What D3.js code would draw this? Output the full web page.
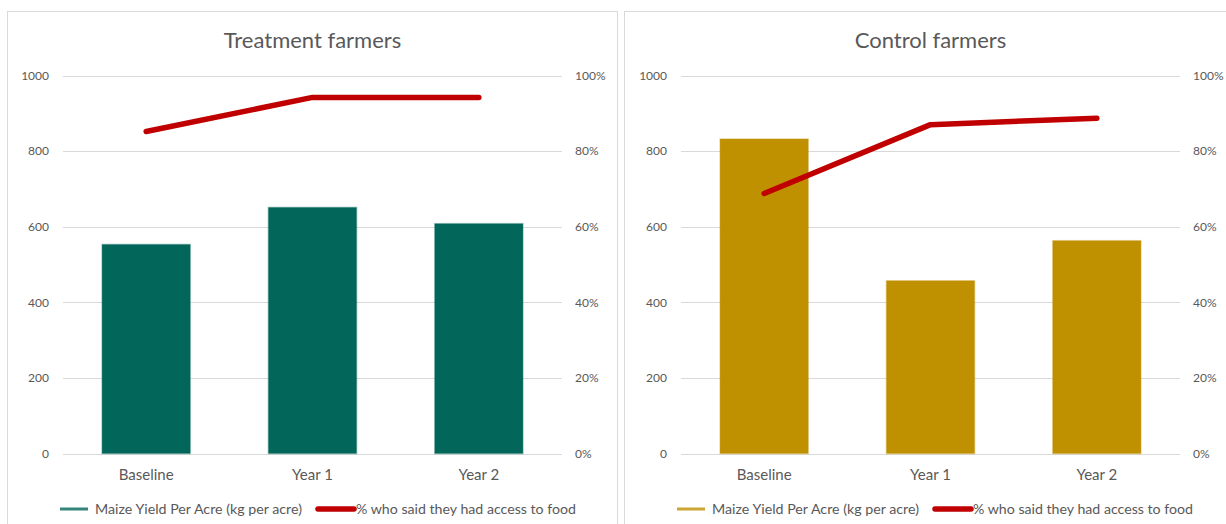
<!DOCTYPE html>
<html>
<head>
<meta charset="utf-8">
<script src="https://cdn.jsdelivr.net/npm/d3@7"></script>
<style>
  html, body { margin: 0; padding: 0; background: #fff; }
  svg { display: block; font-family: Lato, "Open Sans", sans-serif; }
</style>
</head>
<body>
<svg id="chart" width="1226" height="524"></svg>
<script>
// ---- data ----
const categories = ["Baseline", "Year 1", "Year 2"];
const treatmentYield = [553, 651, 608];
const treatmentAccess = [0.852, 0.942, 0.942];
const controlYield = [832, 457, 563];
const controlAccess = [0.688, 0.870, 0.887];
const yieldTicks = [0, 200, 400, 600, 800, 1000];
const pctTicks = [0, 0.2, 0.4, 0.6, 0.8, 1.0];
const titles = ["Treatment farmers", "Control farmers"];
const barSeriesName = "Maize Yield Per Acre (kg per acre)";
const lineSeriesName = "% who said they had access to food";
const barColors = ["#02665A", "#BF9000"];
const lineColor = "#C00000";

const svg = d3.select("#chart");

const panels = [
  { px: 7, pw: 611, left: 63, right: 562, title: titles[0], yields: treatmentYield, access: treatmentAccess, color: barColors[0],
    legBar: 60, legLine: 318 },
  { px: 624, pw: 610, left: 681, right: 1180, title: titles[1], yields: controlYield, access: controlAccess, color: barColors[1],
    legBar: 677, legLine: 935 }
];

const plotTop = 75.5, plotBottom = 453.5;

panels.forEach(p => {
  const g = svg.append("g");
  // panel border
  g.append("rect")
    .attr("x", p.px + 0.5).attr("y", 11.5)
    .attr("width", p.pw - 1).attr("height", 530)
    .attr("fill", "#fff").attr("stroke", "#D9D9D9").attr("stroke-width", 1);

  const x = d3.scaleBand().domain(categories).range([p.left, p.right]).paddingInner(0.47).paddingOuter(0.235);
  const y = d3.scaleLinear().domain([0, 1000]).range([plotBottom, plotTop]);
  const y2 = d3.scaleLinear().domain([0, 1]).range([plotBottom, plotTop]);

  // title
  g.append("text")
    .attr("x", (p.left + p.right) / 2).attr("y", 48)
    .attr("text-anchor", "middle")
    .attr("font-size", 22).attr("fill", "#595959")
    .text(p.title);

  // gridlines
  g.append("g").selectAll("line").data(yieldTicks).join("line")
    .attr("x1", p.left).attr("x2", p.right)
    .attr("y1", d => Math.round(y(d)) + 0.5).attr("y2", d => Math.round(y(d)) + 0.5)
    .attr("stroke", "#D9D9D9").attr("stroke-width", 1);

  // left axis
  const leftAxis = g.append("g").attr("transform", `translate(${p.left - 14},0)`)
    .call(d3.axisLeft(y).tickValues(yieldTicks).tickSize(0).tickPadding(0).tickFormat(d3.format("d")));
  leftAxis.select(".domain").remove();
  leftAxis.selectAll("text").attr("font-size", 12).attr("fill", "#595959").attr("font-family", "Lato, sans-serif");

  // right axis
  const rightAxis = g.append("g").attr("transform", `translate(${p.right + 13},0)`)
    .call(d3.axisRight(y2).tickValues(pctTicks).tickSize(0).tickPadding(0).tickFormat(d3.format(".0%")));
  rightAxis.select(".domain").remove();
  rightAxis.selectAll("text").attr("font-size", 12).attr("fill", "#595959").attr("font-family", "Lato, sans-serif");

  // category labels
  const xAxis = g.append("g").attr("transform", `translate(0,${plotBottom + 10})`)
    .call(d3.axisBottom(x).tickSize(0).tickPadding(6));
  xAxis.select(".domain").remove();
  xAxis.selectAll("text").attr("font-size", 15).attr("fill", "#595959").attr("font-family", "Lato, sans-serif");

  // bars
  g.append("g").selectAll("rect").data(p.yields).join("rect")
    .attr("x", (d, i) => x(categories[i]))
    .attr("y", d => y(d))
    .attr("width", x.bandwidth())
    .attr("height", d => y(0) - y(d))
    .attr("fill", p.color)
    .attr("stroke", p.color).attr("stroke-opacity", 0.35).attr("stroke-width", 1.5);

  // line
  const line = d3.line()
    .x((d, i) => x(categories[i]) + x.bandwidth() / 2)
    .y(d => y2(d));
  g.append("path").datum(p.access)
    .attr("d", line)
    .attr("fill", "none").attr("stroke", lineColor)
    .attr("stroke-width", 5.5).attr("stroke-linecap", "round").attr("stroke-linejoin", "round");

  // legend
  const ly = 509;
  g.append("line").attr("x1", p.legBar).attr("x2", p.legBar + 28).attr("y1", ly).attr("y2", ly)
    .attr("stroke", p.color).attr("stroke-width", 3).attr("stroke-opacity", 0.8);
  g.append("text").attr("x", p.legBar + 35).attr("y", ly + 4.5)
    .attr("font-size", 13).attr("fill", "#595959").attr("textLength", 207).attr("lengthAdjust", "spacingAndGlyphs")
    .text(barSeriesName);
  g.append("line").attr("x1", p.legLine).attr("x2", p.legLine + 36).attr("y1", ly).attr("y2", ly)
    .attr("stroke", lineColor).attr("stroke-width", 5.5).attr("stroke-linecap", "round");
  g.append("text").attr("x", p.legLine + 38).attr("y", ly + 4.5)
    .attr("font-size", 13).attr("fill", "#595959").attr("textLength", 220).attr("lengthAdjust", "spacingAndGlyphs")
    .text(lineSeriesName);
});
</script>
</body>
</html>
